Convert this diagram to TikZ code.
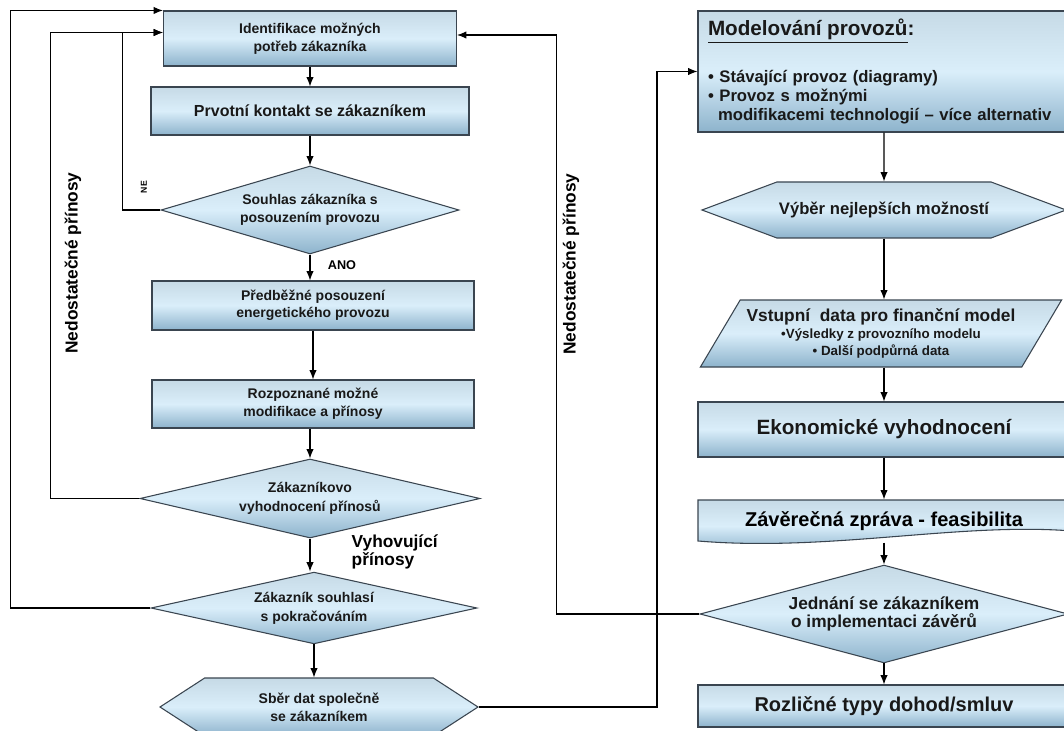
\documentclass[tikz,border=0pt]{standalone}
\usepackage{fontspec}
\setmainfont{Liberation Sans}
\usetikzlibrary{shapes.geometric,shapes.symbols,arrows.meta,calc,positioning}
\definecolor{edgegray}{HTML}{3A4550}
\definecolor{shadetop}{HTML}{C6DAE6}
\definecolor{shademid}{HTML}{DAEEFA}
\definecolor{shadebot}{HTML}{8DB3CC}
\newcommand\fsz[2]{\fontsize{#1pt}{#2pt}\selectfont\bfseries}
\tikzset{
    flow/.style={draw=edgegray, line width=0.8pt, top color=shadetop, bottom color=shadebot, middle color=shademid, inner sep=0pt, align=center, text=black!90},
    procbox/.style={flow, rectangle},
    decide/.style={flow, diamond, aspect=3},
    prepbox/.style={flow, signal, signal to=west and east},
    databox/.style={flow, trapezium, trapezium left angle=53, trapezium right angle=127, trapezium stretches=true},
    wire/.style={line width=0.8pt},
}

\begin{document}
\begin{tikzpicture}[x=0.75pt, y=-0.75pt, >={Latex[length=7pt,width=5.5pt]}]
    \useasboundingbox (0,0) rectangle (1064,731);
    \clip (0,0) rectangle (1064,731);
    % left column
    \node[procbox, minimum width=219.75pt, minimum height=41.25pt, font=\fsz{10.5}{13.5}] (n1) at (310,38.5) {Identifikace možných\\potřeb zákazníka};
    \node[procbox, minimum width=238.5pt, minimum height=36pt, font=\fsz{12}{14}] (n2) at (310,111) {Prvotní kontakt se zákazníkem};
    \node[decide, minimum width=223.5pt, minimum height=66pt, font=\fsz{10.5}{13.5}] (d1) at (310,210) {Souhlas zákazníka s\\posouzením provozu};
    \node[procbox, minimum width=241.5pt, minimum height=36.75pt, font=\fsz{10.5}{12.5}] (n3) at (313,305.5) {Předběžné posouzení\\energetického provozu};
    \node[procbox, minimum width=241.5pt, minimum height=36pt, font=\fsz{10.5}{13.5}] (n4) at (313,404) {Rozpoznané možné\\modifikace a přínosy};
    \node[decide, minimum width=255pt, minimum height=42.75pt, font=\fsz{10.5}{14}] (d2) at (310,498.5) {Zákazníkovo\\vyhodnocení přínosů};
    \node[decide, minimum width=244.5pt, minimum height=52.5pt, font=\fsz{10.5}{14}] (d3) at (314,608) {Zákazník souhlasí\\s pokračováním};
    \node[prepbox, signal pointer angle=66, minimum width=238.5pt, minimum height=43.5pt, font=\fsz{10.5}{13.5}] (h1) at (319,707) {Sběr dat společně\\se zákazníkem};

    \draw[wire,->] (n1) -- (n2);
    \draw[wire,->] (n2) -- (d1);
    \draw[wire,->] (d1.south) -- (d1.south |- n3.north);
    \draw[wire,->] (n3) -- (n4);
    \draw[wire,->] (n4.south -| d2) -- (d2);
    \draw[wire,->] (d2.south) -- (d2.south |- d3.north);
    \draw[wire,->] (d3.south) -- (d3.south |- h1.north);
    \node[font=\fsz{9.5}{10}] (ano) at (342,265) {ANO};
    \node[anchor=west, align=left, font=\fsz{13}{14}] (vyh) at (347,552) {Vyhovující\\přínosy};

    % back to the first box
    \coordinate (n1in) at ($(n1.west)+(0,-6)$);
    \draw[wire,->] (d1.west) -- ++(-38,0) |- (n1in);
    \draw[wire,->] (d2.west) -- ++(-89,0) |- (n1in);
    \draw[wire,->] (d3.west) -- ++(-140,0) |- (n1.north west);
    \node[rotate=90, font=\fsz{6.5}{7}] (ne) at (144,187) {NE};
    \node[rotate=90, font=\fsz{13}{14}] (ned1) at (73,263) {Nedostatečné přínosy};

    % right column
    \node[procbox, minimum width=279pt, minimum height=90.75pt, text width=264pt, align=left, font=\fsz{12.5}{14}] (n5) at (884,71.5)
        {{\fontsize{15.5pt}{18pt}\selectfont\underline{Modelování provozů}:}\\[19.75pt]
         • Stávající provoz (diagramy)\\
         • Provoz s možnými\\
         \hspace*{7.5pt}modifikacemi technologií – více alternativ};
    \node[prepbox, signal pointer angle=41, minimum width=273pt, minimum height=42pt, font=\fsz{12.5}{14}] (d5) at (884,210) {Výběr nejlepších možností};
    \node[databox, minimum width=271.5pt, minimum height=50.25pt, font=\fsz{10}{13}] (p1) at (881,333.5)
        {{\fontsize{13pt}{15pt}\selectfont Vstupní~ data pro finanční model}\\•Výsledky z provozního modelu\\• Další podpůrná data};
    \node[procbox, minimum width=279pt, minimum height=41.25pt, font=\fsz{15.5}{18}] (n6) at (884,429.5) {Ekonomické vyhodnocení};
    \path[flow] (698,500) -- (1072,500) -- (1072,531) .. controls (960,522) and (830,552) .. (698,541) -- cycle;
    \node[minimum width=279pt, minimum height=32pt, font=\fsz{15}{17}] (n7) at (884,521) {Závěrečná zpráva - feasibilita};
    \node[decide, minimum width=276pt, minimum height=66pt, font=\fsz{13}{13.5}] (d6) at (884,614) {Jednání se zákazníkem\\o implementaci závěrů};
    \node[procbox, minimum width=279pt, minimum height=31.5pt, font=\fsz{15}{17}] (n8) at (884,706) {Rozličné typy dohod/smluv};

    \draw[wire,->] (n5) -- (d5);
    \draw[wire,->] (d5.south) -- (d5.south |- p1.north);
    \draw[wire,->] (p1.south -| n6) -- (n6);
    \draw[wire,->] (n6) -- (n7);
    \draw[wire,->] (n7) -- (d6);
    \draw[wire,->] (d6) -- (n8);

    % links between the columns
    \coordinate (n1out) at ($(n1.east)+(0,-3.5)$);
    \draw[wire,->] (d6.west) -- ++(-143,0) |- (n1out);
    \draw[wire,->] (h1.east) -- ++(178,0) |- (n5.west);
    \node[rotate=90, font=\fsz{13}{14}] (ned2) at (571,264) {Nedostatečné přínosy};
\end{tikzpicture}
\end{document}
